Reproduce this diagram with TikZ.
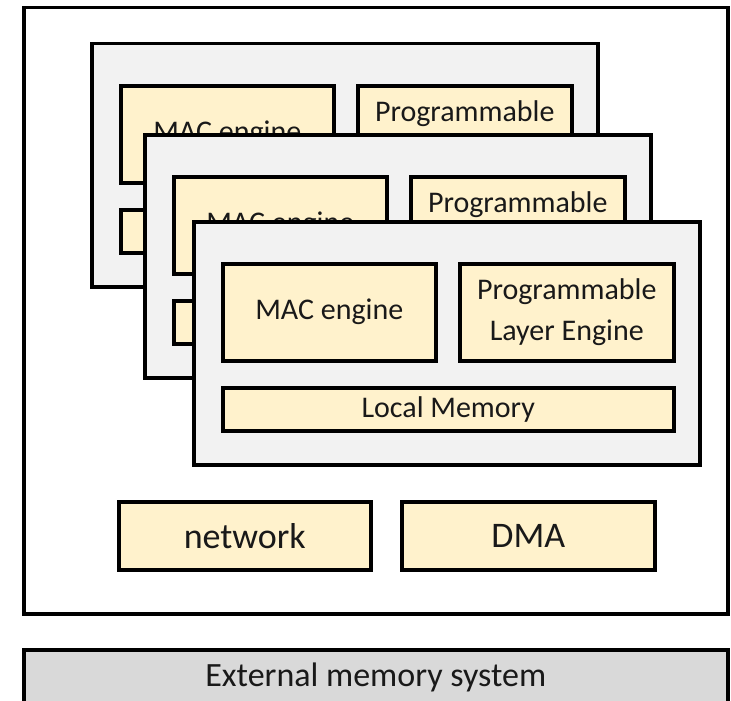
\documentclass[tikz,border=0pt]{standalone}
\usepackage{fontspec}
\setmainfont{Carlito}
\usepackage{tikz}

\definecolor{layergray}{HTML}{F2F2F2}
\definecolor{unitcream}{HTML}{FFF2CC}
\definecolor{extgray}{HTML}{D9D9D9}

\tikzset{
  layerbox/.style={draw, line width=3.5pt, fill=layergray, anchor=north west,
    inner sep=0pt, minimum width=506pt, minimum height=243pt},
  unitbox/.style={draw, line width=3.5pt, fill=unitcream, anchor=north west,
    inner sep=0pt, align=center, text=black!90,
    font=\fontsize{30}{41}\selectfont},
  engbox/.style={unitbox, minimum width=213pt, minimum height=97pt},
  membox/.style={unitbox, minimum width=451pt, minimum height=43pt},
  iobox/.style={unitbox, minimum width=252pt, minimum height=68pt,
    font=\fontsize{36}{40}\selectfont}
}

\begin{document}
\begin{tikzpicture}[x=1pt, y=-1pt]
  \useasboundingbox (0,0) rectangle (731,701);
  % accelerator chip
  \node [draw, line width=3.5pt, fill=white, anchor=north west, inner sep=0pt,
    minimum width=704pt, minimum height=606pt] (chip) at (22,6) {};

  % back layer
  \node [layerbox] (layerA) at (90,42) {};
  \node [engbox] (macA) at (119,84) {MAC engine};
  \node [engbox, minimum width=214pt] (pleA) at (356,84) {Programmable\\Layer Engine};
  \node [membox] (memA) at (119,208) {Local Memory};

  % middle layer
  \node [layerbox] (layerB) at (143,133) {};
  \node [engbox] (macB) at (172,175) {MAC engine};
  \node [engbox, minimum width=214pt] (pleB) at (409,175) {Programmable\\Layer Engine};
  \node [membox] (memB) at (172,299) {Local Memory};

  % front layer
  \node [layerbox] (layerC) at (192,220) {};
  \node [engbox] (macC) at (221,262) {MAC engine};
  \node [engbox, minimum width=214pt] (pleC) at (458,262) {Programmable\\Layer Engine};
  \node [membox] (memC) at (221,386) {Local Memory};

  % shared units
  \node [iobox] (net) at (117,500) {network};
  \node [iobox, minimum width=253pt] (dma) at (400,500) {DMA};

  % off-chip
  \node [draw, line width=3.5pt, fill=extgray, anchor=north west, inner sep=0pt,
    minimum width=704pt, minimum height=56pt, text=black!90,
    font=\fontsize{34}{40}\selectfont] (extmem) at (22,648) {External memory system};
\end{tikzpicture}
\end{document}
